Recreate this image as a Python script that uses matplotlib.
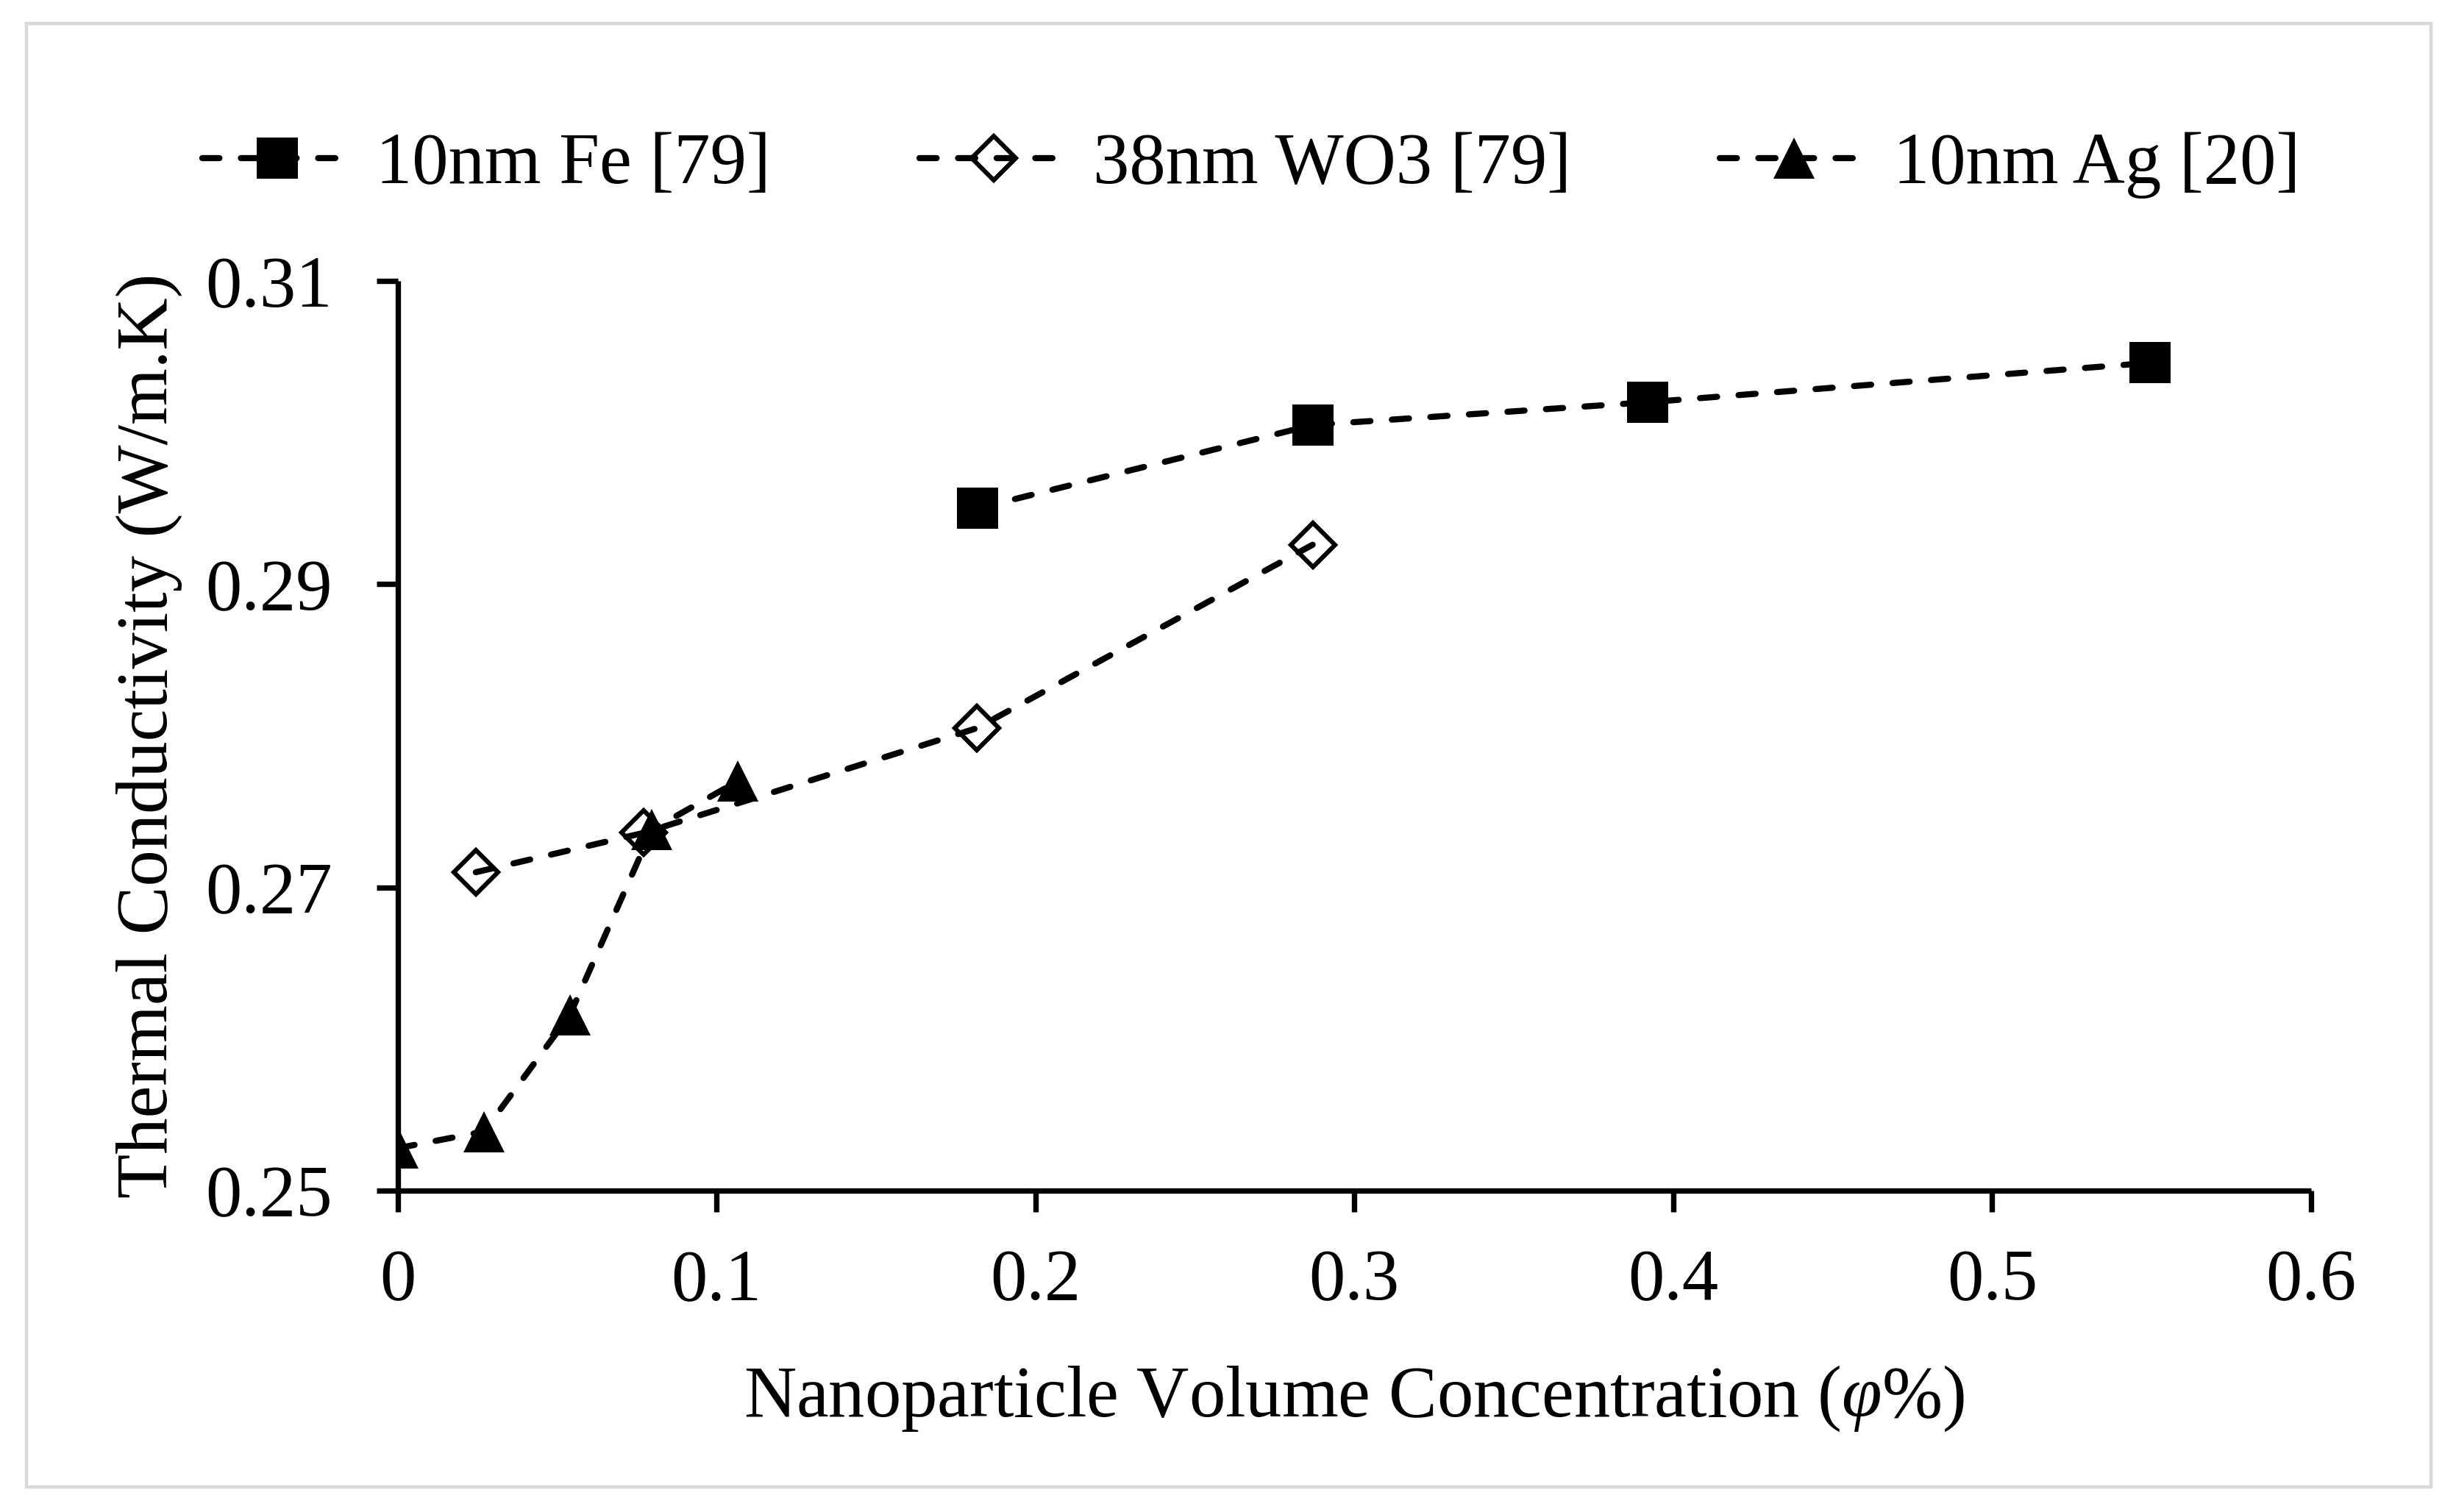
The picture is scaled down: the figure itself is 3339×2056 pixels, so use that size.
import matplotlib
matplotlib.use("Agg")
import matplotlib.pyplot as plt
from matplotlib.patches import Rectangle

plt.rcParams['font.family'] = ['Liberation Serif', 'DejaVu Serif']
plt.rcParams['mathtext.fontset'] = 'custom'
plt.rcParams['mathtext.rm'] = 'Liberation Serif'
plt.rcParams['mathtext.it'] = 'Liberation Serif:italic'

# Data
fe_x = [0.1818, 0.2870, 0.3920, 0.5496]
fe_y = [0.2950, 0.3005, 0.3020, 0.3046]
wo3_x = [0.0245, 0.0772, 0.1816, 0.2869]
wo3_y = [0.2710, 0.2736, 0.2805, 0.2926]
ag_x = [0.0, 0.0271, 0.0540, 0.0797, 0.1066]
ag_y = [0.2528, 0.2539, 0.2616, 0.2738, 0.2770]
labels = ['10nm Fe [79]', '38nm WO3 [79]', '10nm Ag [20]']
xticks = [0, 0.1, 0.2, 0.3, 0.4, 0.5, 0.6]
xticklabels = ['0', '0.1', '0.2', '0.3', '0.4', '0.5', '0.6']
yticks = [0.25, 0.27, 0.29, 0.31]
yticklabels = ['0.25', '0.27', '0.29', '0.31']

W, H = 3339, 2056
fig = plt.figure(figsize=(W / 100, H / 100), dpi=100)
fig.patch.set_facecolor('white')

# outer border
fig.patches.append(Rectangle((36 / W, 1 - 2022 / H), (3305 - 36) / W, (2022 - 32) / H,
                             transform=fig.transFigure, fill=False,
                             edgecolor='#d9d9d9', linewidth=3.2, zorder=0))

ax_left, ax_right, ax_top, ax_bottom = 540.7, 3142, 382, 1619
ax = fig.add_axes([ax_left / W, 1 - ax_bottom / H, (ax_right - ax_left) / W, (ax_bottom - ax_top) / H])

lw = 6.0
dash = (2.8, 3.5)
common = dict(color='black', linewidth=lw, linestyle=(0, dash), dash_capstyle='round')

l1, = ax.plot(fe_x, fe_y, marker='s', markersize=41, markerfacecolor='black',
              markeredgecolor='black', markeredgewidth=0, label=labels[0], **common)
l2, = ax.plot(wo3_x, wo3_y, marker='D', markersize=31, markerfacecolor='none',
              markeredgecolor='black', markeredgewidth=4.4, label=labels[1], **common)
l3, = ax.plot(ag_x, ag_y, marker='^', markersize=41, markerfacecolor='black',
              markeredgecolor='black', markeredgewidth=0, label=labels[2], **common)

ax.set_xlim(0, 0.6)
ax.set_ylim(0.25, 0.31)
ax.set_xticks(xticks)
ax.set_xticklabels(xticklabels)
ax.set_yticks(yticks)
ax.set_yticklabels(yticklabels)

for s in ['top', 'right']:
    ax.spines[s].set_visible(False)
for s in ['left', 'bottom']:
    ax.spines[s].set_linewidth(5.3)
    ax.spines[s].set_capstyle('butt')

ax.tick_params(axis='both', direction='out', length=21, width=5.3, labelsize=71, color='black')
ax.tick_params(axis='y', pad=43)
ax.tick_params(axis='x', pad=36)

ax.set_xlabel(r'Nanoparticle Volume Concentration ($φ$%)', fontsize=71, labelpad=48)
ax.set_ylabel('Thermal Conductivity (W/m.K)', fontsize=71)
ax.yaxis.set_label_coords(-(ax_left - 248) / (ax_right - ax_left), 0.5)

leg = fig.legend(handles=[l1, l2, l3], labels=labels, loc='center',
                 bbox_to_anchor=(0.5095, 1 - 225 / H), ncol=3, frameon=False,
                 fontsize=71, handlelength=2.05, handletextpad=0.34, columnspacing=2.05,
                 markerscale=1.0)

fig.savefig('out.png', dpi=100, facecolor='white')
